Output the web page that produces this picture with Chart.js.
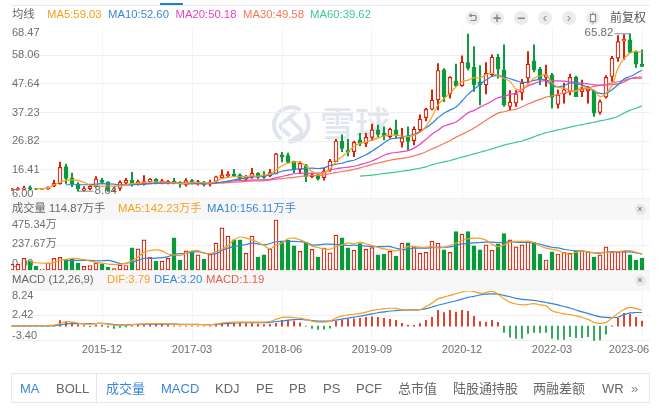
<!DOCTYPE html>
<html><head><meta charset="utf-8">
<script src="https://cdn.jsdelivr.net/npm/chart.js@4/dist/chart.umd.min.js"></script>
<style>
html,body{margin:0;padding:0;background:#fff;overflow:hidden}
body{width:662px;height:410px;position:relative;font-family:"Liberation Sans","Noto Sans CJK SC",sans-serif;font-size:11.3px;color:#666}
.t{position:absolute;white-space:nowrap;line-height:14px}
.band{position:absolute;left:11px;width:639px;background:#f7f7f7}
canvas{position:absolute;left:0}
.ic{position:absolute;width:14px;height:14px;border-radius:7px;background:#ececec;top:11px;color:#888;text-align:center;line-height:14px;font-size:11px}
.x{position:absolute;width:11px;height:11px;border-radius:6px;background:#e8e8e8;left:634.5px;color:#666;text-align:center;line-height:11px;font-size:9px}
.tab{position:absolute;top:381px;font-size:13px;line-height:15px;color:#666;white-space:nowrap}
.on{color:#3a86d8}
</style></head><body>
<div style="position:absolute;left:11px;top:5px;width:639px;height:1px;background:#e9e9e9"></div>
<div style="position:absolute;left:160px;top:3px;width:23px;height:2px;background:#1e7fd8"></div>
<svg style="position:absolute;left:268px;top:100px" width="48" height="48" viewBox="0 0 48 48" fill="none" stroke="#dfe4ee" stroke-width="4" stroke-linecap="round" stroke-linejoin="round"><path d="M31 9A17.500 17.500 0 0 0 12 38"/><path d="M38 15A17.500 17.500 0 0 1 22 41.500"/><path d="M27 13L14 23.500Q11 26 14 29L21 35"/><path d="M23 20L32 29Q35 32 32 35L22 41.500"/></svg>
<div style="position:absolute;left:320px;top:100px;font-size:35px;line-height:44px;font-family:'Noto Sans CJK SC';font-weight:500;color:#e1e6ee">雪球</div>
<div class="band" style="top:198px;height:22px"></div>
<div class="band" style="top:271px;height:20px"></div>
<canvas id="cMain" width="662" height="200" style="top:0;width:662px;height:200px"></canvas>
<canvas id="cVol" width="662" height="73" style="top:198px;width:662px;height:73px"></canvas>
<canvas id="cMacd" width="662" height="89" style="top:271px;width:662px;height:89px"></canvas>

<div class="t" style="left:12px;top:7px">均线</div>
<div class="t" style="left:47px;top:7px;color:#f99e1d">MA5:59.03</div>
<div class="t" style="left:108px;top:7px;color:#3a86d8">MA10:52.60</div>
<div class="t" style="left:175.500px;top:7px;color:#e844bc">MA20:50.18</div>
<div class="t" style="left:243px;top:7px;color:#f4775a">MA30:49.58</div>
<div class="t" style="left:310px;top:7px;color:#40c98f">MA60:39.62</div>

<div class="ic" style="left:466px"><svg width="14" height="14" viewBox="0 0 14 14" fill="none" stroke="#888" stroke-width="1.200" style="display:block"><path d="M4 4.500H9C10.500 4.500 10.500 9.500 9 9.500H4.500"/><path d="M5.500 3L3.800 4.500L5.500 6"/></svg></div>
<div class="ic" style="left:490px;font-size:14px;font-weight:bold">+</div>
<div class="ic" style="left:514px;font-size:14px;font-weight:bold">−</div>
<div class="ic" style="left:538px;font-size:13px">‹</div>
<div class="ic" style="left:562px;font-size:13px">›</div>
<div class="ic" style="left:586px"><svg width="14" height="14" viewBox="0 0 14 14" style="display:block"><rect x="6.500" y="1.500" width="1" height="11" fill="#888"/><rect x="4.500" y="3.500" width="5" height="7" fill="#fff" stroke="#888" stroke-width="1.200"/></svg></div>
<div class="t" style="left:610px;top:11px;font-size:12px;color:#555">前复权</div>

<div class="t" style="left:12px;top:201px">成交量 114.87万手</div>
<div class="t" style="left:118px;top:201px;color:#f99e1d">MA5:142.23万手</div>
<div class="t" style="left:207px;top:201px;color:#3a86d8">MA10:156.11万手</div>
<div class="x" style="top:203.500px">×</div>

<div class="t" style="left:12px;top:272px">MACD (12,26,9)</div>
<div class="t" style="left:107px;top:272px;color:#f99e1d">DIF:3.79</div>
<div class="t" style="left:154px;top:272px;color:#3a86d8">DEA:3.20</div>
<div class="t" style="left:206px;top:272px;color:#ea5b4c">MACD:1.19</div>
<div class="x" style="top:274.500px">×</div>

<div style="position:absolute;left:11px;top:373px;width:637px;height:28px;border:1px solid #e8e8e8"></div>
<div style="position:absolute;left:96px;top:373px;width:1px;height:31px;background:#e8e8e8"></div>
<div class="tab on" style="left:20px">MA</div>
<div class="tab" style="left:56px">BOLL</div>
<div class="tab on" style="left:106px">成交量</div>
<div class="tab on" style="left:161px">MACD</div>
<div class="tab" style="left:215px">KDJ</div>
<div class="tab" style="left:256px">PE</div>
<div class="tab" style="left:289px">PB</div>
<div class="tab" style="left:323px">PS</div>
<div class="tab" style="left:356px">PCF</div>
<div class="tab" style="left:398px">总市值</div>
<div class="tab" style="left:453px">陆股通持股</div>
<div class="tab" style="left:533px">两融差额</div>
<div class="tab" style="left:602px">WR</div>
<div class="tab" style="left:631px;color:#888">»</div>

<script>
const dateLabels = ['2015-12','2017-03','2018-06','2019-09','2020-12','2022-03','2023-06'];
const dateIndex = [15,30,45,60,75,90,105];

const opens = [9.2,9.3,9.4,10.0,9.5,9.3,9.5,10.5,11.3,17.6,
13.5,11.3,8.9,9.6,10.3,12.7,11.9,9.0,9.7,11.6,
12.6,11.2,11.3,12.0,13.0,11.5,11.6,12.2,11.9,11.0,
12.5,11.3,12.0,11.2,12.2,13.6,14.2,14.9,14.6,13.0,
13.9,15.1,14.6,14.2,14.9,21.9,21.6,19.5,16.4,18.0,
13.9,14.6,13.6,16.4,19.4,26.9,23.6,23.0,27.3,26.0,
28.2,30.9,29.7,28.5,30.9,26.4,28.5,27.0,30.9,35.4,
38.4,41.8,52.7,44.0,48.7,47.0,55.4,53.7,48.3,47.3,
50.9,57.3,52.7,39.4,40.6,44.5,49.7,56.0,53.0,50.0,
50.9,40.2,44.0,44.8,50.0,44.8,45.0,45.0,37.3,42.8,
50.3,57.0,63.2,63.6,59.4,54.8];
const closes = [9.5,9.6,9.9,9.6,9.4,9.5,10.0,11.5,17.3,13.3,
11.3,9.5,9.6,10.5,13.1,11.8,8.9,9.5,11.9,12.6,
11.2,12.1,12.1,13.0,11.5,12.4,12.2,11.5,11.2,12.5,
11.5,12.1,11.0,12.0,13.9,14.6,14.9,14.2,13.1,13.9,
15.1,13.7,13.7,15.4,22.2,21.0,19.2,16.4,18.8,14.0,
14.6,13.1,16.0,19.6,26.9,24.2,22.8,26.4,26.0,28.2,
30.9,29.3,28.7,31.2,29.0,28.0,26.7,31.2,34.8,38.4,
41.7,52.5,43.0,50.0,46.9,55.5,53.3,47.3,47.3,51.5,
57.3,53.0,40.0,41.0,44.0,47.9,54.8,52.7,49.5,50.9,
42.7,43.6,45.5,50.0,43.0,45.8,45.8,37.0,41.2,50.0,
57.0,63.0,63.9,59.1,54.8,54.0];
const highs = [9.7,10.0,10.5,10.6,9.7,9.6,10.2,12.7,19.2,18.5,
15.2,11.8,10.3,10.9,14.0,13.3,12.1,10.1,12.4,13.3,
15.5,12.7,14.3,13.2,13.2,13.0,12.6,13.3,12.1,13.2,
13.0,12.6,12.2,12.7,14.1,16.4,15.8,16.6,15.0,14.4,
17.0,15.4,15.8,16.6,22.4,22.8,22.5,19.6,19.4,18.4,
15.2,15.2,17.0,20.2,27.5,29.1,27.5,26.9,29.7,29.7,
33.0,32.7,32.0,31.6,34.5,31.5,32.0,32.0,36.4,38.8,
45.5,55.0,53.2,50.3,54.8,57.8,65.7,61.2,54.3,55.4,
58.2,58.4,61.8,45.2,45.2,49.3,59.4,61.8,53.6,54.5,
51.5,45.5,47.9,51.2,50.5,49.0,46.7,45.2,41.8,50.6,
57.6,65.2,65.5,65.82,59.6,60.0];
const lows = [8.9,9.0,9.1,9.0,9.2,9.2,9.3,10.3,11.2,11.5,
10.3,8.64,8.7,9.1,10.1,11.3,8.6,8.5,8.9,11.2,
10.5,10.8,10.8,11.8,11.3,11.3,11.3,11.3,10.0,10.5,
11.3,10.8,10.5,10.5,11.5,13.2,13.7,13.9,12.7,12.7,
13.3,13.3,13.3,13.9,14.9,19.3,18.8,15.4,15.2,12.1,
13.6,12.7,12.7,15.8,19.4,23.0,21.5,21.2,25.2,24.8,
27.0,28.5,27.3,27.9,27.9,24.6,23.6,25.5,30.3,34.2,
38.2,38.2,41.2,42.4,46.7,46.7,52.7,44.9,40.0,44.0,
50.3,49.7,39.4,38.2,39.4,41.8,47.9,52.0,47.3,46.7,
38.8,38.8,40.6,43.6,43.0,43.0,40.6,35.8,36.6,42.4,
48.5,55.8,56.4,59.0,53.6,54.0];

const ma5Start = 4;
const ma5 = [9.6,9.6,9.9,10.9,12.0,12.6,12.8,12.6,11.9,10.9,
10.6,10.5,10.5,10.5,10.5,11.0,11.4,11.5,11.9,12.0,
12.0,12.0,12.0,11.8,11.5,11.5,11.8,11.8,11.8,11.6,
12.2,13.2,13.7,13.9,13.9,14.0,14.2,14.1,14.5,14.9,
16.3,17.9,18.8,19.3,19.2,17.8,15.8,15.0,15.3,16.7,
19.4,21.2,23.0,24.9,26.0,26.6,27.2,28.0,28.7,29.0,
29.0,28.7,28.5,29.0,30.0,32.2,35.7,40.0,42.3,44.2,
46.6,48.4,49.0,49.9,49.8,50.9,51.5,50.6,49.6,48.5,
45.7,45.7,47.5,49.7,50.5,50.9,48.0,46.4,46.1,45.3,
44.9,46.7,46.0,45.5,43.0,44.2,47.0,53.3,56.8,58.8,
59.4,59.03];
const ma10Start = 9;
const ma10 = [11.0,11.0,11.0,11.0,11.1,11.2,11.4,11.3,11.2,10.9,
10.9,11.0,11.1,11.2,11.4,11.6,11.7,11.8,11.8,11.7,
11.6,11.6,11.5,11.4,11.4,11.6,12.0,12.3,12.8,13.2,
13.4,13.7,14.0,14.2,14.5,15.2,15.9,16.3,16.6,16.8,
16.9,17.0,16.9,17.1,18.0,18.5,18.8,19.5,19.9,20.9,
21.9,23.2,24.6,26.2,27.5,27.9,28.2,28.8,29.3,30.3,
31.7,33.3,35.3,37.0,38.1,39.2,41.4,43.8,45.7,47.5,
49.0,50.4,50.6,50.2,49.5,48.8,48.2,48.3,48.9,49.3,
49.0,47.0,46.5,47.0,47.9,47.8,47.2,46.4,45.0,44.2,
44.2,45.5,47.3,49.4,50.3,51.4,52.6];
const ma20Start = 18;
const ma20 = [11.0,11.0,11.1,11.2,11.3,11.4,11.5,11.5,11.6,11.6,
11.6,11.5,11.5,11.5,11.5,11.6,11.7,11.9,12.2,12.4,
12.5,12.6,12.7,12.8,12.8,13.0,13.5,14.0,14.5,15.0,
15.1,15.2,15.1,15.2,15.5,16.3,16.8,17.1,17.4,17.7,
18.3,18.9,19.6,20.6,21.7,22.4,22.7,23.0,23.4,24.3,
25.7,27.5,29.3,30.8,32.3,33.0,33.8,35.4,37.1,38.0,
39.2,40.2,41.4,42.6,43.1,43.8,44.3,45.5,46.9,47.7,
48.5,48.8,48.7,48.7,48.6,48.4,48.1,47.9,47.6,47.3,
47.2,47.2,47.4,47.6,48.3,49.5,50.0,50.18];
const ma30Start = 28;
const ma30 = [11.3,11.3,11.3,11.3,11.3,11.4,11.5,11.6,11.8,11.9,
12.0,12.2,12.3,12.4,12.5,12.7,13.0,13.2,13.5,13.7,
14.0,14.2,14.3,14.4,14.6,15.0,15.4,15.8,16.1,16.6,
17.1,17.7,18.4,18.9,19.4,19.9,20.3,20.6,20.9,21.5,
22.1,23.0,24.0,24.9,26.0,27.0,28.3,29.3,30.4,31.6,
33.0,34.4,35.8,37.0,37.5,38.0,38.4,39.3,40.3,41.2,
42.0,42.8,43.3,43.8,44.3,44.8,45.3,45.7,46.2,46.7,
47.1,47.5,48.0,48.4,48.9,49.5,49.7,49.58];
const ma60Start = 58;
const ma60 = [14.1,14.3,14.5,14.8,15.1,15.3,15.6,15.9,16.2,16.6,
17.0,17.5,18.2,18.8,19.3,19.8,20.4,21.0,21.6,22.2,
22.8,23.4,24.0,24.7,25.4,25.9,26.4,26.9,27.6,28.4,
29.2,29.9,30.4,30.9,31.4,31.9,32.4,32.8,33.3,33.7,
34.2,34.6,35.1,35.9,37.0,38.0,38.8,39.62];
const lowIndex = 11, lowEnd = 13.6, lowValue = 8.64;
const highIndex = 103, highEnd = 100.4, highValue = 65.82;
const priceTicks = [68.47,58.06,47.64,37.23,26.82,16.41,6.00];

const volumes = [57,57,113,91,41,13,72,113,123,104,
113,69,38,47,72,60,31,19,50,47,
211,201,286,126,88,88,113,305,98,183,
176,145,107,151,255,397,321,286,286,160,
321,126,145,201,472,274,283,230,179,264,
198,126,208,164,330,305,211,189,252,198,
214,145,154,179,135,255,258,223,160,170,
274,255,192,170,362,340,362,230,192,239,
189,249,343,286,220,239,268,264,154,98,
173,154,170,160,183,183,173,126,145,220,
170,173,176,145,98,114.87];
const volMa5Start = 3;
const volMa5 = [82,72,69,66,76,94,104,113,110,101,88,76,69,60,57,60,66,91,123,170,186,192,183,154,145,139,161,183,186,161,157,176,201,230,286,312,302,286,264,233,201,239,255,296,302,286,261,230,214,201,198,
223,239,255,249,264,249,233,217,201,192,183,198,223,223,217,217,223,208,217,233,255,280,296,302,299,283,245,223,239,264,271,271,274,261,230,208,198,186,164,151,170,183,173,167,167,170,170,176,183,186,170,150];
const volMa10Start = 9;
const volMa10 = [91,94,94,94,94,91,91,94,82,66,66,79,94,113,113,116,120,129,151,157,161,170,176,164,154,157,186,208,223,233,242,255,249,239,252,268,271,271,271,268,261,239,239,245,245,
242,239,233,236,233,227,223,223,223,223,208,195,198,208,208,208,214,217,217,220,233,249,252,258,261,264,264,261,261,268,264,261,261,255,245,230,217,211,198,189,183,183,173,164,161,170,176,176,176,173,164,156];
const volTicks = [475.34,237.67,0];
const volTickLabels = ['475.34万','237.67万','0.00'];

const dif = [0.0,0.05,0.1,0.1,0.1,0.1,0.15,0.25,0.6,1.05,
1.0,0.7,0.5,0.5,0.6,0.65,0.45,0.25,0.2,0.25,
0.35,0.45,0.55,0.6,0.6,0.6,0.55,0.45,0.35,0.35,
0.35,0.35,0.35,0.35,0.5,0.75,0.9,0.95,0.95,0.95,
0.95,0.95,0.95,1.1,1.6,2.05,2.1,2.0,1.9,1.6,
1.2,0.95,0.95,1.2,1.9,2.4,2.65,2.8,3.0,3.3,
3.7,3.9,4.1,4.2,4.15,3.9,3.8,3.75,3.85,4.6,
5.4,6.4,6.8,7.2,7.6,8.0,8.3,8.1,7.7,7.9,
8.2,7.5,6.4,5.6,5.2,5.0,5.1,5.3,5.0,4.8,
3.6,3.2,2.9,2.7,2.4,2.1,1.6,0.9,0.65,0.9,
1.9,3.0,3.9,4.4,4.1,3.79];
const dea = [0.05,0.05,0.05,0.05,0.05,0.05,0.05,0.1,0.25,0.55,
0.6,0.6,0.57,0.58,0.62,0.65,0.55,0.4,0.3,0.3,
0.38,0.43,0.45,0.47,0.5,0.5,0.5,0.5,0.45,0.42,
0.42,0.4,0.38,0.38,0.45,0.55,0.68,0.75,0.8,0.82,
0.84,0.85,0.85,0.9,1.1,1.2,1.4,1.55,1.6,1.45,
1.3,1.2,1.18,1.2,1.45,1.65,1.9,2.1,2.35,2.6,
2.9,3.15,3.35,3.55,3.65,3.75,3.8,3.8,3.85,4.1,
4.5,4.9,5.25,5.6,5.95,6.35,6.75,7.0,7.3,7.5,
7.55,7.5,7.2,6.9,6.5,6.3,6.15,6.05,5.8,5.55,
5.3,5.0,4.6,4.25,3.8,3.35,3.0,2.55,2.2,2.05,
2.0,2.1,2.7,3.1,3.2,3.2];
const macd = [0,0,0,0,0,0,0.1,0.2,1.3,1.05,
0.8,0.35,0.15,-0.1,0.25,0.25,-0.25,-0.5,-0.3,-0.2,
0.1,0.25,0.3,0.4,0.5,0.45,0.25,0.1,0.05,0,
0,0,0,0.02,0.35,0.6,0.65,0.65,0.65,0.6,
0.6,0.5,0.35,0.45,0.65,1.4,1.35,1.2,0.8,0.05,
-0.5,-0.75,-0.7,-0.45,1.21,1.45,1.6,1.75,1.83,2.07,
2.2,2.07,1.83,1.6,1.4,0.66,0.27,0.2,0.6,1.4,
2.07,3.7,3.2,3.7,3.3,3.7,3.45,2.3,1.1,0.9,
1.4,0.9,-1.45,-2.6,-2.85,-2.85,-1.7,-1.45,-1.5,-1.45,
-2.85,-3.1,-3.1,-2.45,-2.7,-2.7,-2.45,-3.4,-3.3,-1.85,
0.1,1.83,3.0,2.75,2.07,1.19];
const macdTicks = [8.24,2.42,-3.40];

const RED='#d81e06', GREEN='#0a9a3c', O='#f99e1d', B='#2f84dc', M='#e844bc', C='#f4775a', G='#40c98f';
const TXT='#6e6e6e', GRID='#f0f0f0', VGRID='#f4f4f4';
const FONT='"Liberation Sans","Noto Sans CJK SC",sans-serif';
const XMIN=-1/6, XMAX=106+1/3;

const at=(start,arr)=>arr.map((v,k)=>({x:start+k,y:v}));
const line=(data,color,order,w=1)=>({type:'line',data,borderColor:color,borderWidth:w,pointRadius:0,tension:0.35,order,clip:true});
const up=opens.map((o,i)=>closes[i]>=o);

function noPad(s){s.paddingTop=0;s.paddingBottom=0;s.paddingLeft=0;s.paddingRight=0;}
function xGrid(){return {type:'linear',min:XMIN,max:XMAX,offset:false,
  afterBuildTicks(s){s.ticks=dateIndex.map(v=>({value:v}))},
  afterFit(s){s.height=0;noPad(s)},
  grid:{color:VGRID,drawTicks:false,lineWidth:1,offset:false},border:{display:false},
  ticks:{display:false}};}
function yGrid(min,max,ticks,hide){return {type:'linear',min,max,
  afterBuildTicks(s){s.ticks=ticks.map(v=>({value:v}))},
  afterFit(s){s.width=0;noPad(s)},
  grid:{color:c=>hide.includes(c.tick.value)?'rgba(0,0,0,0)':GRID,drawTicks:false},border:{display:false},
  ticks:{display:false}};}
/* tick-label axis: the outermost labels sit inside the plot, so their anchors are nudged by a fraction of the range */
function yText(min,max,ticks,labels,nudge){return {type:'linear',min,max,position:'left',
  afterBuildTicks(s){s.ticks=ticks.map((v,i)=>({value:v+nudge[i]*(max-min)}))},
  afterFit(s){s.width=0;noPad(s)},
  grid:{display:false},border:{display:false},
  ticks:{mirror:true,padding:1,autoSkip:false,color:TXT,font:{size:11,family:FONT},
    callback:(v,i)=>labels[i]}};}
const base={responsive:false,animation:false,devicePixelRatio:1,
  plugins:{legend:{display:false},tooltip:{enabled:false}}};

const priceNotes={id:'priceNotes',afterDatasetsDraw(ch){
  const {ctx,scales:{x,y}}=ch; ctx.save();
  ctx.font='11.5px '+FONT; ctx.fillStyle=TXT; ctx.textBaseline='middle';
  ctx.textAlign='left'; ctx.fillText(lowValue.toFixed(2),x.getPixelForValue(lowEnd)+1,y.getPixelForValue(lowValue)-0.5);
  ctx.textAlign='right'; ctx.fillText(highValue.toFixed(2),x.getPixelForValue(highEnd)-1,y.getPixelForValue(highValue)-1);
  ctx.restore();}};

new Chart(document.getElementById('cMain'),{type:'bar',
 data:{datasets:[
  line([{x:highIndex,y:highValue},{x:highEnd,y:highValue}],'#888',0),
  line([{x:lowIndex,y:lowValue},{x:lowEnd,y:lowValue}],'#888',0),
  line(at(ma5Start,ma5),O,1,1.2),
  line(at(ma10Start,ma10),B,2,1.2),
  line(at(ma20Start,ma20),M,3,1.2),
  line(at(ma30Start,ma30),C,4,1.2),
  line(at(ma60Start,ma60),G,5,1.2),
  {type:'bar',order:7,grouped:false,barThickness:1.3,data:highs.map((h,i)=>({x:i,y:[lows[i],h]})),
   backgroundColor:up.map(u=>u?RED:GREEN),borderWidth:0},
  {type:'bar',order:6,grouped:false,barThickness:4,data:opens.map((o,i)=>({x:i,y:[o,closes[i]]})),
   backgroundColor:up.map(u=>u?'#fff':GREEN),borderColor:up.map(u=>u?RED:GREEN),borderWidth:1.2,borderSkipped:false}
 ]},
 options:{...base,layout:{padding:{left:11,right:12,top:26.5,bottom:1.5}},
  scales:{x:xGrid(),y:yGrid(6,68.47,priceTicks,[68.47]),
   yT:yText(6,68.47,priceTicks,priceTicks.map(v=>v.toFixed(2)),[-0.035,0,0,0,0,0,0.024])}},
 plugins:[priceNotes]});

new Chart(document.getElementById('cVol'),{type:'bar',
 data:{datasets:[
  line(at(volMa5Start,volMa5),O,1,1.2),
  line(at(volMa10Start,volMa10),B,2,1.2),
  {type:'bar',order:3,grouped:false,barThickness:4,data:volumes.map((v,i)=>({x:i,y:v})),
   backgroundColor:up.map(u=>u?'#fff':GREEN),borderColor:up.map(u=>u?RED:GREEN),borderWidth:1.2,borderSkipped:false}
 ]},
 options:{...base,layout:{padding:{left:11,right:12,top:21.5,bottom:0.5}},
  scales:{x:xGrid(),y:yGrid(0,475.34,volTicks,[475.34]),
   yT:yText(0,475.34,volTicks,volTickLabels,[-0.1,0.02,0.12])}}});

new Chart(document.getElementById('cMacd'),{type:'bar',
 data:{datasets:[
  line(dif.map((v,i)=>({x:i,y:v})),O,1,1.2),
  line(dea.map((v,i)=>({x:i,y:v})),B,2,1.2),
  {type:'bar',order:3,grouped:false,barThickness:1,data:macd.map((v,i)=>({x:i,y:v})),
   backgroundColor:macd.map(v=>v>=0?RED:GREEN),borderWidth:0}
 ]},
 options:{...base,layout:{padding:{left:11,right:12,top:20,bottom:0}},
  scales:{x:xGrid(),
   xT:{type:'linear',position:'bottom',min:XMIN,max:XMAX,offset:false,
    afterBuildTicks(s){s.ticks=dateIndex.map((v,i)=>({value:i===dateIndex.length-1?v-2.17:v}))},
    afterFit(s){s.height=19.3;noPad(s)},
    grid:{display:false,drawTicks:false},border:{display:false},
    ticks:{autoSkip:false,maxRotation:0,padding:3,color:TXT,font:{size:11,family:FONT},callback:(v,i)=>dateLabels[i]}},
   y:yGrid(-3.40,8.24,macdTicks,[8.24]),
   yT:yText(-3.40,8.24,macdTicks,macdTicks.map(v=>v.toFixed(2)),[-0.1,0.01,0.09])}}});
</script>
</body></html>
